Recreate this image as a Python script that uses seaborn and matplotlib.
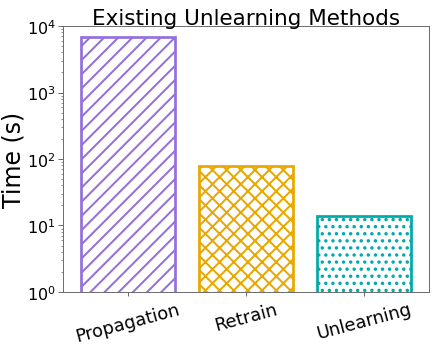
import matplotlib
matplotlib.use("Agg")
import matplotlib.pyplot as plt
import seaborn as sns
import pandas as pd

methods = ["Propagation", "Retrain", "Unlearning"]
times = [6800, 78, 14]
colors = ["#9370DB", "#E8A800", "#00AAAA"]
hatches = ["//", "xx", ".."]

DPI = 85
sns.set_style("white")
plt.rcParams['font.family'] = ['DejaVu Sans']
plt.rcParams['hatch.linewidth'] = 1.7
plt.rcParams['text.color'] = 'black'
plt.rcParams['axes.labelcolor'] = 'black'
plt.rcParams['xtick.color'] = 'black'
plt.rcParams['ytick.color'] = 'black'

df = pd.DataFrame({"method": methods, "time": times})
fig, ax = plt.subplots(figsize=(436 / DPI, 349 / DPI), dpi=DPI)
sns.barplot(data=df, x="method", y="time", ax=ax, width=0.8, fill=False)
ax.set_yscale('log')
for patch, c, h in zip(ax.patches, colors, hatches):
    patch.set_fill(False)
    patch.set_edgecolor(c)
    patch.set_hatch(h)
    patch.set_linewidth(2.3)

ax.set_ylim(1, 1e4)
ax.set_xlim(-0.55, 2.55)
ax.set_title("Existing Unlearning Methods", fontsize=18.2, pad=2)
ax.set_ylabel("Time (s)", fontsize=20)
ax.yaxis.set_label_coords(-0.102, 0.5)
ax.set_xlabel("")
ax.tick_params(axis='y', which='major', labelsize=13.5, left=True, length=4, color='#666666', pad=2)
ax.tick_params(axis='y', which='minor', left=True, length=2, color='#666666')
ax.tick_params(axis='x', labelsize=15.2, bottom=True, length=3, color='#666666')
for lab in ax.get_xticklabels():
    lab.set_rotation(15)
for s in ax.spines.values():
    s.set_color('#666666')
fig.subplots_adjust(left=0.1445, right=0.984, top=0.9226, bottom=0.1605)
fig.savefig("out.png", dpi=DPI)
